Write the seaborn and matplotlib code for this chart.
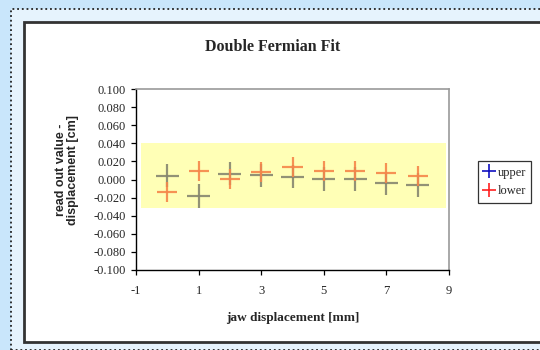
import matplotlib
matplotlib.use("Agg")
import matplotlib.pyplot as plt
from matplotlib.patches import Rectangle
from matplotlib.lines import Line2D
import seaborn as sns

# jaw displacement [mm] and read-out residuals [cm]
jaw_mm = [0, 1, 2, 3, 4, 5, 6, 7, 8]
upper = [0.0042, -0.0183, 0.0064, 0.0046, 0.0031, 0.0006, 0.0006, -0.0042, -0.0061]
lower = [-0.0135, 0.0097, 0.0006, 0.0080, 0.0138, 0.0097, 0.0097, 0.0075, 0.0042]
upper_yerr = [0.013] * 9
lower_yerr = [0.011] * 9
upper_xerr = [0.37] * 9
lower_xerr = [0.32] * 9

# tolerance band
band_x = [-0.85, 8.9]
band_y = [-0.032, 0.040]

x_ticks = [-1, 1, 3, 5, 7, 9]
y_ticks = [-0.1, -0.08, -0.06, -0.04, -0.02, 0.0, 0.02, 0.04, 0.06, 0.08, 0.1]

sns.set_theme(style="ticks")
plt.rcParams["font.family"] = ["Liberation Serif", "DejaVu Serif"]

W, H = 540, 350
fig = plt.figure(figsize=(W / 100, H / 100), dpi=100)
fig.patch.set_facecolor("#c9e6fb")

# page background and chart frame
fig.add_artist(Rectangle((11 / W, 0), 1, 1 - 9 / H, transform=fig.transFigure,
                         facecolor="#e6f3fd", edgecolor="#222222",
                         linestyle=(0, (1, 1.6)), linewidth=1.3, zorder=0))
fig.add_artist(Rectangle((24 / W, 8 / H), 1, 1 - 30 / H, transform=fig.transFigure,
                         facecolor="white", edgecolor="#333333",
                         linewidth=2, zorder=0.5))

ax = fig.add_axes([136 / W, 1 - 270 / H, 313 / W, 181 / H])
ax.set_facecolor("white")
ax.set_zorder(1)

ax.fill_between(band_x, band_y[0], band_y[1], color="#ffffb6", lw=0, zorder=1)

ax.errorbar(jaw_mm, upper, yerr=upper_yerr, xerr=upper_xerr, fmt="none",
            ecolor="#86866f", elinewidth=1.6, capsize=0, alpha=0.9, zorder=3)
ax.errorbar(jaw_mm, lower, yerr=lower_yerr, xerr=lower_xerr, fmt="none",
            ecolor="#f5864a", elinewidth=1.6, capsize=0, alpha=0.9, zorder=4)

ax.set_xlim(-1, 9)
ax.set_ylim(-0.1, 0.1)
ax.set_xticks(x_ticks)
ax.set_xticklabels([str(v) for v in x_ticks])
ax.set_yticks(y_ticks)
ax.set_yticklabels([f"{v:.3f}" for v in y_ticks])
ax.tick_params(axis="both", direction="out", length=3.5, width=0.9,
               color="black", labelsize=9)
ax.tick_params(axis="y", pad=4)
ax.tick_params(axis="x", pad=7)

for side in ("left", "bottom"):
    ax.spines[side].set_color("black")
    ax.spines[side].set_linewidth(1.0)
for side in ("top", "right"):
    ax.spines[side].set_color("#9a9a9a")
    ax.spines[side].set_linewidth(1.2)

ax.set_xlabel("jaw displacement [mm]", fontsize=9.5, fontweight="bold", labelpad=11)
fig.text(67 / W, 1 - 170 / H, "read out value -\ndisplacement [cm]",
         rotation=90, ha="center", va="center", fontsize=9,
         fontweight="bold", linespacing=1.05,
         family=["Liberation Sans", "DejaVu Sans"])
fig.text(273 / W, 1 - 47 / H, "Double Fermian Fit", ha="center", va="center",
         fontsize=11.5, fontweight="bold")

handles = [
    Line2D([], [], color="#1010c0", marker="+", linestyle="none", markersize=10, markeredgewidth=1.2),
    Line2D([], [], color="#ff2020", marker="+", linestyle="none", markersize=10, markeredgewidth=1.2),
]
leg = fig.legend(handles, ["upper", "lower"], loc="upper left",
                 bbox_to_anchor=(478 / W, 1 - 161 / H), frameon=True,
                 fancybox=False, fontsize=9, handlelength=0.8, handletextpad=0.3,
                 borderpad=0.45, labelspacing=0.55, borderaxespad=0)
leg.get_frame().set_edgecolor("black")
leg.get_frame().set_linewidth(0.9)
leg.set_zorder(5)

fig.savefig("out.png", dpi=100, facecolor=fig.get_facecolor())
